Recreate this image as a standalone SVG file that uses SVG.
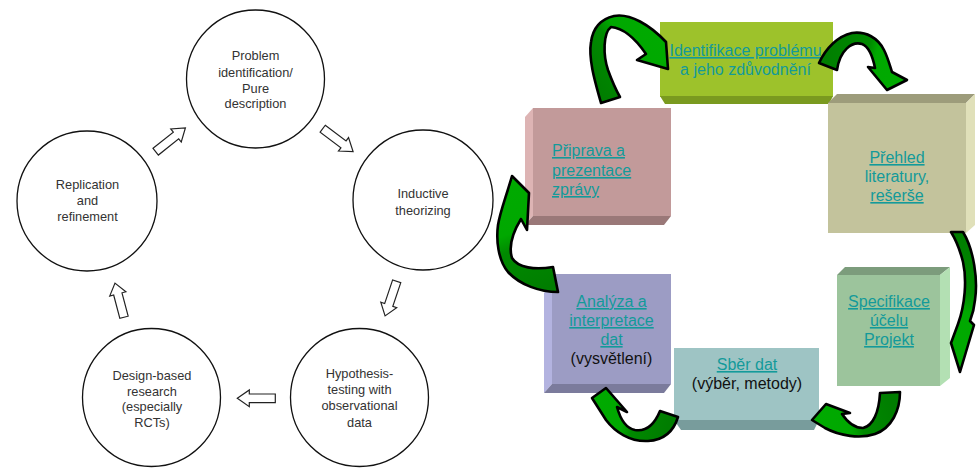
<svg xmlns="http://www.w3.org/2000/svg" xmlns:xlink="http://www.w3.org/1999/xlink" width="980" height="468" viewBox="0 0 980 468">
<style>
.c{fill:#fff;stroke:#111;stroke-width:1.3}
.lt{font-family:"Liberation Sans",Arial,sans-serif;font-size:12.8px;fill:#333;text-anchor:middle}
.ba{fill:#fff;stroke:#222;stroke-width:1.2;stroke-linejoin:miter}
.bt{font-family:"Liberation Sans",Arial,sans-serif;font-size:16px;fill:#139a9a;text-anchor:middle}
.u{text-decoration:underline}
.k{fill:#111}
.ga{stroke:#000;stroke-width:2.6;stroke-linejoin:round}
</style>
<defs>
<path id="ba" d="M0,-4.3 L26,-4.3 L26,-8.4 L38,0 L26,8.4 L26,4.3 L0,4.3 Z"/>
<linearGradient id="gA" gradientUnits="userSpaceOnUse" x1="595" y1="90" x2="665" y2="45"><stop offset="0" stop-color="#007d00"/><stop offset="0.45" stop-color="#008a00"/><stop offset="0.6" stop-color="#00a800"/><stop offset="1" stop-color="#00aa00"/></linearGradient>
<linearGradient id="gB" gradientUnits="userSpaceOnUse" x1="820" y1="65" x2="905" y2="85"><stop offset="0" stop-color="#007d00"/><stop offset="0.5" stop-color="#008a00"/><stop offset="0.6" stop-color="#00a800"/><stop offset="1" stop-color="#00aa00"/></linearGradient>
<linearGradient id="gC" gradientUnits="userSpaceOnUse" x1="955" y1="235" x2="960" y2="365"><stop offset="0" stop-color="#007d00"/><stop offset="0.45" stop-color="#008a00"/><stop offset="0.6" stop-color="#00a800"/><stop offset="1" stop-color="#00aa00"/></linearGradient>
<linearGradient id="gD" gradientUnits="userSpaceOnUse" x1="890" y1="395" x2="815" y2="415"><stop offset="0" stop-color="#007d00"/><stop offset="0.45" stop-color="#008a00"/><stop offset="0.6" stop-color="#00a800"/><stop offset="1" stop-color="#00aa00"/></linearGradient>
<linearGradient id="gE" gradientUnits="userSpaceOnUse" x1="670" y1="415" x2="600" y2="395"><stop offset="0" stop-color="#007d00"/><stop offset="0.45" stop-color="#008a00"/><stop offset="0.6" stop-color="#00a800"/><stop offset="1" stop-color="#00aa00"/></linearGradient>
<linearGradient id="gF" gradientUnits="userSpaceOnUse" x1="555" y1="285" x2="515" y2="185"><stop offset="0" stop-color="#007d00"/><stop offset="0.45" stop-color="#008a00"/><stop offset="0.6" stop-color="#00a800"/><stop offset="1" stop-color="#00aa00"/></linearGradient>
</defs>
<rect width="980" height="468" fill="#fff"/>

<!-- Left cycle -->
<g id="n-problem"><circle class="c" cx="255.5" cy="79" r="69"/>
<text class="lt" x="255.5" y="60">Problem</text><text class="lt" x="255.5" y="76.5">identification/</text><text class="lt" x="255.5" y="92.5">Pure</text><text class="lt" x="255.5" y="108">description</text></g>
<g id="n-inductive"><circle class="c" cx="423" cy="200" r="70"/>
<text class="lt" x="423" y="198">Inductive</text><text class="lt" x="423" y="215">theorizing</text></g>
<g id="n-hypothesis"><circle class="c" cx="359.5" cy="397.5" r="69"/>
<text class="lt" x="359.5" y="378">Hypothesis-</text><text class="lt" x="359.5" y="394">testing with</text><text class="lt" x="359.5" y="410">observational</text><text class="lt" x="359.5" y="426.5">data</text></g>
<g id="n-design"><circle class="c" cx="151.5" cy="397.5" r="69"/>
<text class="lt" x="152" y="380">Design-based</text><text class="lt" x="152" y="395.5">research</text><text class="lt" x="152" y="411">(especially</text><text class="lt" x="152" y="426.5">RCTs)</text></g>
<g id="n-replication"><circle class="c" cx="87" cy="201" r="70"/>
<text class="lt" x="87.5" y="189">Replication</text><text class="lt" x="87.5" y="205">and</text><text class="lt" x="87.5" y="221">refinement</text></g>

<g id="left-connectors">
<use href="#ba" class="ba" transform="translate(155.7,151.7) rotate(-38.6)"/>
<use href="#ba" class="ba" transform="translate(322.7,128.7) rotate(36.9)"/>
<use href="#ba" class="ba" transform="translate(396.7,281.3) rotate(108.6) scale(0.96,1)"/>
<use href="#ba" class="ba" transform="translate(275.3,398.3) rotate(180)"/>
<use href="#ba" class="ba" transform="translate(124,317.3) rotate(-104.8) scale(0.93,1)"/>
</g>

<!-- Right cycle boxes -->
<g id="n-identifikace">
<rect x="660" y="22" width="173" height="75" fill="#9dc22b"/>
<polygon points="660,96 833,96 829,104 665,104" fill="#7a9a1f"/>
<text class="bt u" x="745.5" y="56">Identifikace problému</text>
<text class="bt" x="745.5" y="75">a jeho zdůvodnění</text>
</g>
<g id="n-prehled">
<polygon points="828,103 966,103 975,94 837,94" fill="#9d9c7b"/>
<polygon points="966,103 975,94 975,225 966,233" fill="#e0e0b9"/>
<rect x="828" y="103" width="138" height="130" fill="#c3c39c"/>
<text class="bt u" x="897" y="163">Přehled</text>
<text class="bt" x="897" y="182">literatury,</text>
<text class="bt u" x="897" y="201">rešerše</text>
</g>
<g id="n-priprava">
<polygon points="525,117 533,108 533,216 525,225" fill="#ddb4b4"/>
<rect x="533" y="108" width="138" height="108" fill="#c29a9a"/>
<polygon points="533,216 671,216 664,225 525,225" fill="#9a7878"/>
<text class="bt u" x="552" y="156" text-anchor="start" style="text-anchor:start">Připrava a</text>
<text class="bt u" x="552" y="176" style="text-anchor:start">prezentace</text>
<text class="bt u" x="552" y="195" style="text-anchor:start">zprávy</text>
</g>
<g id="n-analyza">
<polygon points="544,293 552,285 552,384 544,393" fill="#b3b3e0"/>
<rect x="552" y="274" width="119" height="110" fill="#9c9cc4"/>
<polygon points="552,384 671,384 664,393 544,393" fill="#7b7b9c"/>
<text class="bt u" x="611.5" y="307">Analýza a</text>
<text class="bt u" x="611.5" y="326">interpretace</text>
<text class="bt u" x="611.5" y="345">dat</text>
<text class="bt k" x="611.5" y="364">(vysvětlení)</text>
</g>
<g id="n-sber">
<rect x="674" y="348" width="145" height="73" fill="#9ec4c4"/>
<polygon points="674,420 819,420 814,430 681,430" fill="#789c9c"/>
<text class="bt u" x="747" y="370">Sběr dat</text>
<text class="bt k" x="747" y="389">(výběr, metody)</text>
</g>
<g id="n-specifikace">
<polygon points="837,275 940,275 950,267 845,267" fill="#7c9c7c"/>
<polygon points="940,275 950,267 950,378 940,386" fill="#b3e0b3"/>
<rect x="837" y="275" width="103" height="111" fill="#9cc49c"/>
<text class="bt u" x="889" y="307">Specifikace</text>
<text class="bt u" x="889" y="326">účelu</text>
<text class="bt u" x="889" y="345">Projekt</text>
</g>

<g id="right-connectors">
<path class="ga" fill="url(#gA)" d="M601,103 C596,85 588,60 591,42 C593,28 601,19 614,16 C630,13 650,25 666,42 L668,69 L637,60 L646,54 C637,41 624,28 611,27 C603,33 603,55 608,70 C612,81 616,90 620,97 Z"/>
<path class="ga" fill="url(#gB)" d="M819,63 C826,48 838,36 852,33 C866,31 878,38 884,50 C888,58 890,66 892,72 L907,80 L887,90 L868,67 L875,68 C873,58 870,47 862,44 C852,41 840,50 837,70 Z"/>
<path class="ga" fill="url(#gC)" d="M951,232 L963,232 C974,250 978,280 975,300 C974,310 972,316 970,321 L974,325 L960,372 L951,343 L958,324 C965,305 967,280 963,262 C960,250 956,240 951,232 Z"/>
<path class="ga" fill="url(#gD)" d="M880,393 L900,392 C900,410 892,428 875,434 C860,439 840,436 825,428 L812,420 L826,404 L850,413 L842,414 C848,423 855,428 863,428 C873,426 879,412 880,393 Z"/>
<path class="ga" fill="url(#gE)" d="M660,411 L678,417 C674,430 665,440 648,441 C630,442 615,432 606,420 L592,398 L606,388 L627,412 L617,407 C620,418 625,428 635,430 C647,432 655,423 660,411 Z"/>
<path class="ga" fill="url(#gF)" d="M558,292 C540,292 520,285 508,272 C498,260 496,240 498,225 C500,212 505,200 512,176 L529,193 L527,230 L521,219 C513,232 508,245 512,258 C518,268 535,270 553,267 Z"/>
</g>
</svg>
